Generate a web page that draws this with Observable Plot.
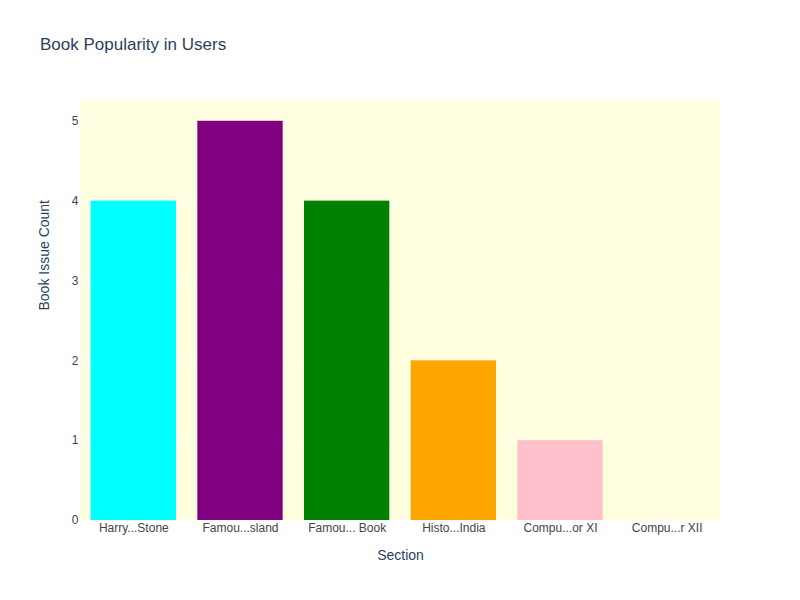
<!DOCTYPE html>
<html>
<head>
<meta charset="utf-8">
<script src="https://cdn.jsdelivr.net/npm/d3@7"></script>
<script src="https://cdn.jsdelivr.net/npm/@observablehq/plot@0.6"></script>
<style>
  html, body { margin: 0; padding: 0; background: white; }
  #wrap { position: relative; width: 800px; height: 600px; font-family: "Liberation Sans", Arial, sans-serif; }
  #title { position: absolute; left: 40px; top: 35px; font-size: 17px; color: #2a3f5f; }
</style>
</head>
<body>
<div id="wrap"><div id="title">Book Popularity in Users</div></div>
<script>
const sections = ["Harry...Stone", "Famou...sland", "Famou... Book", "Histo...India", "Compu...or XI", "Compu...r XII"];
const counts = [4, 5, 4, 2, 1, 0];
const barColors = ["cyan", "purple", "green", "orange", "pink", "red"];
const yTicks = [0, 1, 2, 3, 4, 5];

const data = sections.map((s, i) => ({section: s, count: counts[i], color: barColors[i]}));
const textColor = "#2a3f5f";
const tickColor = "#444";

const chart = Plot.plot({
  width: 800,
  height: 600,
  marginTop: 100,
  marginBottom: 80,
  marginLeft: 80,
  marginRight: 80,
  style: {fontFamily: "'Liberation Sans', Arial, sans-serif", background: "transparent"},
  x: {domain: sections, paddingInner: 0.2, paddingOuter: 0.1, align: 0.5, round: false, label: null},
  y: {domain: [0, 5.26], label: null},
  color: {type: "identity"},
  marks: [
    Plot.frame({fill: "lightyellow", stroke: null}),
    Plot.gridY(yTicks, {stroke: "white", strokeOpacity: 1, strokeWidth: 1}),
    Plot.barY(data, {x: "section", y: "count", fill: "color"}),
    Plot.axisX({tickSize: 0, tickPadding: 3, fontSize: 12, fill: tickColor, label: null}),
    Plot.axisY(yTicks, {tickSize: 0, tickPadding: 2, fontSize: 12, fill: tickColor, label: null, tickFormat: d => String(d)}),
    Plot.text(["Section"], {frameAnchor: "bottom", dy: 35, fontSize: 14, fill: textColor, lineAnchor: "middle"}),
    Plot.text(["Book Issue Count"], {frameAnchor: "left", dx: -36, rotate: -90, fontSize: 14, fill: textColor, lineAnchor: "middle"})
  ]
});
document.getElementById("wrap").prepend(chart);
chart.style.position = "absolute";
chart.style.left = "0";
chart.style.top = "0";
</script>
</body>
</html>
